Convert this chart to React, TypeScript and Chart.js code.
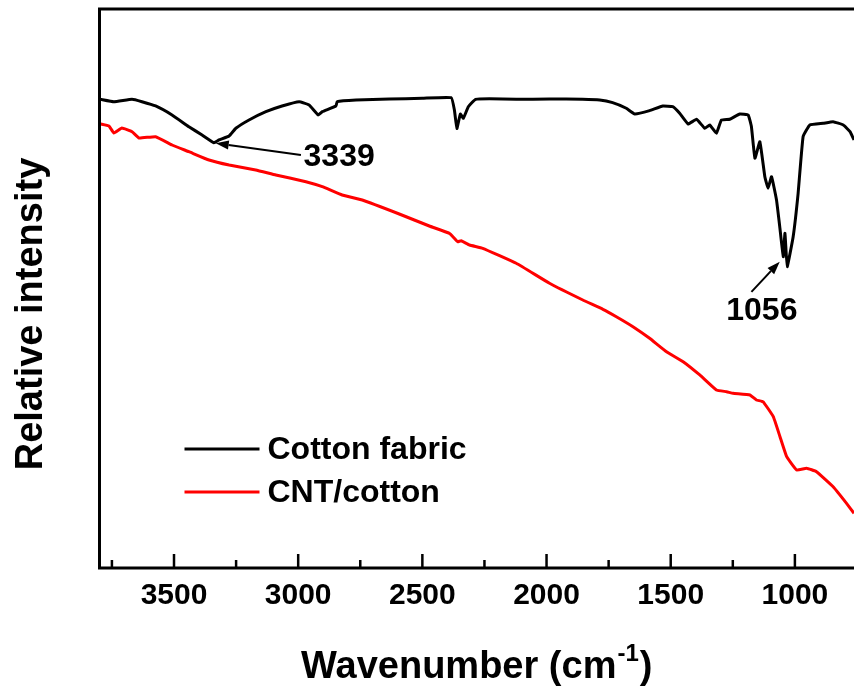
import React, { useEffect, useRef } from 'react';
import { Chart, registerables } from 'chart.js';

Chart.register(...registerables);

// ---- Data ----
const cottonWavenumber = [3796, 3742, 3669, 3629, 3574, 3508, 3440, 3387, 3339, 3319, 3278, 3251, 3198, 3130, 3065, 2996, 2956, 2919, 2903, 2848, 2843, 2767, 2633, 2500, 2384, 2371, 2361, 2347, 2335, 2315, 2286, 2230, 2122, 1988, 1855, 1786, 1734, 1679, 1645, 1585, 1532, 1492, 1464, 1430, 1396, 1363, 1343, 1316, 1296, 1262, 1222, 1188, 1175, 1161, 1141, 1121, 1108, 1094, 1074, 1061, 1047, 1040, 1031, 1007, 987, 967, 940, 886, 846, 805, 778, 762];
const cottonIntensity = [83.85, 83.42, 83.85, 83.42, 82.65, 81.04, 78.94, 77.46, 76.08, 76.57, 77.28, 78.66, 80.14, 81.63, 82.65, 83.42, 82.83, 81.04, 81.63, 82.65, 83.42, 83.72, 83.9, 84.03, 84.13, 81.93, 78.62, 81.22, 80.45, 82.52, 83.85, 83.95, 83.85, 83.9, 83.85, 83.72, 83.24, 82.24, 81.22, 81.81, 82.65, 82.52, 81.34, 79.43, 80.27, 78.66, 79.25, 77.76, 80.14, 80.27, 81.22, 81.04, 78.94, 73.29, 76.26, 70.0, 67.93, 70.0, 65.83, 61.06, 55.69, 59.87, 53.9, 59.27, 67.03, 77.16, 79.25, 79.55, 79.84, 79.25, 78.05, 76.57];

const cntWavenumber = [3796, 3762, 3742, 3710, 3669, 3641, 3574, 3508, 3440, 3359, 3278, 3171, 3090, 2969, 2903, 2823, 2742, 2593, 2472, 2391, 2371, 2358, 2344, 2310, 2257, 2122, 1988, 1854, 1773, 1719, 1652, 1585, 1517, 1450, 1383, 1316, 1275, 1249, 1181, 1155, 1128, 1087, 1060, 1033, 993, 953, 913, 846, 792, 762];
const cntIntensity = [79.43, 79.07, 77.82, 78.71, 78.05, 76.92, 77.16, 75.67, 74.47, 72.99, 72.09, 71.2, 70.3, 69.11, 68.21, 66.73, 65.83, 63.33, 61.18, 59.87, 58.98, 58.37, 58.55, 57.78, 57.19, 54.51, 50.93, 47.94, 46.28, 44.96, 43.17, 41.09, 38.69, 36.91, 34.53, 31.84, 31.54, 31.25, 30.95, 30.05, 29.75, 27.07, 23.49, 19.91, 17.53, 17.84, 17.23, 14.54, 11.57, 9.79];

const seriesLabels = ['Cotton fabric', 'CNT/cotton'];
const xTickValues = [1000, 1250, 1500, 1750, 2000, 2250, 2500, 2750, 3000, 3250, 3500, 3750];
const xMajorTicks = [1000, 1500, 2000, 2500, 3000, 3500];

const peakLabels = ['3339', '1056'];
const peakTipX = [3332, 1061];
const peakTipY = [75.97, 54.8];
const peakTailX = [2989, 1175];
const peakTailY = [73.9, 49.4];
const peakTextX = [2835, 1133];
const peakTextY = [73.5, 46.0];

const FONT = "'Liberation Sans', Arial, Helvetica, sans-serif";

const decorPlugin = {
  id: 'decor',
  afterDraw(chart: any) {
    const { ctx, chartArea } = chart;
    const xs = chart.scales.x;
    const ys = chart.scales.y;
    const { left, right, top, bottom } = chartArea;
    ctx.save();

    // frame (left, bottom, top)
    ctx.strokeStyle = '#000';
    ctx.lineWidth = 3;
    ctx.lineCap = 'square';
    ctx.beginPath();
    ctx.moveTo(right + 2, top);
    ctx.lineTo(left, top);
    ctx.lineTo(left, bottom);
    ctx.lineTo(right + 2, bottom);
    ctx.stroke();

    // inward tick marks
    ctx.lineCap = 'butt';
    ctx.lineWidth = 2.5;
    xs.ticks.forEach((t: any) => {
      const px = xs.getPixelForValue(t.value);
      const len = xMajorTicks.includes(t.value) ? 14 : 8;
      ctx.beginPath();
      ctx.moveTo(px, bottom);
      ctx.lineTo(px, bottom - len);
      ctx.stroke();
    });

    // legend
    ctx.font = `bold 32px ${FONT}`;
    ctx.textBaseline = 'middle';
    ctx.textAlign = 'left';
    chart.data.datasets.forEach((ds: any, i: number) => {
      const y = top + 440 + i * 43;
      ctx.strokeStyle = ds.borderColor;
      ctx.lineWidth = 3;
      ctx.beginPath();
      ctx.moveTo(left + 85, y);
      ctx.lineTo(left + 160, y);
      ctx.stroke();
      ctx.fillStyle = '#000';
      ctx.fillText(ds.label, left + 168, y + 1);
    });

    // peak annotations with arrows
    ctx.strokeStyle = '#000';
    ctx.fillStyle = '#000';
    peakLabels.forEach((lab, i) => {
      const tx = xs.getPixelForValue(peakTipX[i]);
      const ty = ys.getPixelForValue(peakTipY[i]);
      const sx = xs.getPixelForValue(peakTailX[i]);
      const sy = ys.getPixelForValue(peakTailY[i]);
      const ang = Math.atan2(ty - sy, tx - sx);
      const headLen = 13;
      const headW = 4.5;
      const bx = tx - headLen * Math.cos(ang);
      const by = ty - headLen * Math.sin(ang);
      ctx.lineWidth = 2;
      ctx.beginPath();
      ctx.moveTo(sx, sy);
      ctx.lineTo(bx, by);
      ctx.stroke();
      ctx.beginPath();
      ctx.moveTo(tx, ty);
      ctx.lineTo(bx + headW * Math.sin(ang), by - headW * Math.cos(ang));
      ctx.lineTo(bx - headW * Math.sin(ang), by + headW * Math.cos(ang));
      ctx.closePath();
      ctx.fill();
      ctx.font = `bold 32px ${FONT}`;
      ctx.textAlign = 'center';
      ctx.textBaseline = 'middle';
      ctx.fillText(lab, xs.getPixelForValue(peakTextX[i]), ys.getPixelForValue(peakTextY[i]));
    });

    // y-axis title
    ctx.save();
    ctx.translate(42, 314);
    ctx.rotate(-Math.PI / 2);
    ctx.font = `bold 38px ${FONT}`;
    ctx.textAlign = 'center';
    ctx.textBaseline = 'alphabetic';
    ctx.fillText('Relative intensity', 0, 0);
    ctx.restore();

    // x-axis title with superscript
    const base = 'Wavenumber (cm';
    const sup = '-1';
    const tail = ')';
    ctx.font = `bold 38px ${FONT}`;
    const wBase = ctx.measureText(base).width;
    const wTail = ctx.measureText(tail).width;
    ctx.font = `bold 24px ${FONT}`;
    const wSup = ctx.measureText(sup).width;
    const total = wBase + wSup + wTail + 2;
    const cx = (left + right) / 2;
    const x0 = cx - total / 2;
    const yb = 678;
    ctx.textAlign = 'left';
    ctx.textBaseline = 'alphabetic';
    ctx.font = `bold 38px ${FONT}`;
    ctx.fillText(base, x0, yb);
    ctx.font = `bold 24px ${FONT}`;
    ctx.fillText(sup, x0 + wBase + 1, yb - 17);
    ctx.font = `bold 38px ${FONT}`;
    ctx.fillText(tail, x0 + wBase + wSup + 2, yb);

    ctx.restore();
  },
};

export default function App() {
  const ref = useRef<HTMLCanvasElement | null>(null);

  useEffect(() => {
    if (!ref.current) return;
    const chart = new Chart(ref.current, {
      type: 'line',
      data: {
        datasets: [
          {
            label: seriesLabels[0],
            data: cottonWavenumber.map((w, i) => ({ x: w, y: cottonIntensity[i] })),
            borderColor: '#000000',
            borderWidth: 3,
            pointRadius: 0,
            tension: 0.1,
            fill: false,
          },
          {
            label: seriesLabels[1],
            data: cntWavenumber.map((w, i) => ({ x: w, y: cntIntensity[i] })),
            borderColor: '#ff0000',
            borderWidth: 3,
            pointRadius: 0,
            tension: 0.1,
            fill: false,
          },
        ],
      },
      options: {
        animation: false,
        responsive: false,
        maintainAspectRatio: false,
        parsing: false as any,
        layout: { padding: { top: 9, right: 0, left: 0, bottom: 0 } },
        plugins: {
          legend: { display: false },
          tooltip: { enabled: false },
        },
        scales: {
          x: {
            type: 'linear',
            reverse: true,
            min: 762,
            max: 3800,
            afterBuildTicks: (scale: any) => {
              scale.ticks = xTickValues.map((v) => ({ value: v }));
            },
            afterFit: (scale: any) => {
              scale.height = 124;
            },
            grid: { display: true, drawOnChartArea: false, drawTicks: false },
            border: { display: false },
            ticks: {
              autoSkip: false,
              maxRotation: 0,
              padding: 10,
              color: '#000',
              font: { family: FONT, size: 30, weight: 'bold' },
              callback: (v: any) => (xMajorTicks.includes(Number(v)) ? String(v) : ''),
            },
          },
          y: {
            type: 'linear',
            min: 0,
            max: 100,
            afterFit: (scale: any) => {
              scale.width = 99.5;
            },
            grid: { display: false },
            border: { display: false },
            ticks: { display: false },
          },
        },
      },
      plugins: [decorPlugin],
    });
    return () => chart.destroy();
  }, []);

  return (
    <div style={{ position: 'fixed', left: 0, top: 0, width: 854, height: 692, background: '#fff' }}>
      <canvas ref={ref} width={854} height={692} style={{ display: 'block', width: 854, height: 692 }} />
    </div>
  );
}
